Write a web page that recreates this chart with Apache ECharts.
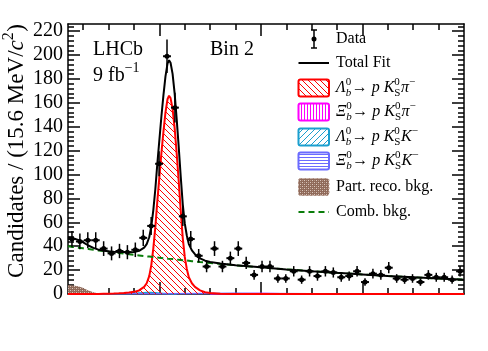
<!DOCTYPE html>
<html>
<head>
<meta charset="utf-8">
<script src="https://cdn.jsdelivr.net/npm/echarts@6/dist/echarts.min.js"></script>
<style>
  html, body { margin: 0; padding: 0; background: #fff; }
  #chart { width: 488px; height: 351px; }
</style>
</head>
<body>
<div id="chart"></div>
<script>
// binning: 50 bins of 15.6 MeV from 5420 to 6200
const binLow = 5420
const binWidth = 15.6
const counts = [46, 44, 45, 45, 38, 34, 36, 35, 37, 47,
  57, 109, 199, 156, 65, 46, 32, 23, 38, 23,
  30, 38, 26, 16, 23, 23, 13, 13, 19, 12,
  19, 15, 19, 18, 14, 15, 19, 10, 17, 16,
  22, 13, 12, 13, 10, 16, 14, 14, 12, 19]

// fit components (candidates per bin)
const fitMass = [5420, 5430, 5440, 5450, 5460, 5470, 5480, 5490, 5500, 5510, 5520, 5530, 5540, 5550, 5560, 5570,
  5575, 5580, 5584, 5588, 5592, 5596, 5600, 5604, 5608, 5612, 5616, 5619,
  5622, 5626, 5630, 5634, 5638, 5642, 5646, 5650, 5654, 5658,
  5664, 5670, 5680, 5690, 5700, 5720, 5750, 5800, 5850, 5900, 5950, 6000, 6050, 6100, 6150, 6200]
const sigFit = [0, 0, 0, 0, 0, 0.1, 0.1, 0.2, 0.3, 0.4, 0.6, 0.9, 1.3, 1.8, 3, 6,
  9, 15, 24, 38, 56, 78, 98, 118, 136, 152, 163, 166,
  164, 155, 139, 118, 95, 70, 47, 31, 21, 14,
  9, 6, 3, 1.5, 0.8, 0.3, 0.1, 0, 0, 0, 0, 0, 0, 0, 0, 0]
const combFit = [40, 39.4, 38.8, 38.2, 37.6, 37, 36.5, 35.9, 35.4, 34.8, 34.3, 33.8, 33.2, 32.7, 32.2, 31.7,
  31.5, 31.3, 31.1, 30.9, 30.7, 30.5, 30.3, 30.2, 30.0, 29.8, 29.6, 29.5,
  29.4, 29.2, 29.0, 28.8, 28.7, 28.5, 28.3, 28.1, 28.0, 27.8,
  27.5, 27.3, 26.8, 26.4, 26.0, 25.2, 24.0, 22.3, 20.6, 19.1, 17.7, 16.4, 15.1, 14.0, 12.9, 12.0]
const partRecoFit = [7.5, 7.2, 6.5, 5, 3, 1.5, 0.5, 0.1, 0]
const lbKFit = [0, 0, 0, 0, 0, 0, 0, 0.1, 0.1, 0.2, 0.3, 0.4, 0.5, 0.7, 0.9, 1.1,
  1.2, 1.2, 1.2, 1.1, 1.0, 0.9, 0.7, 0.6, 0.5, 0.4, 0.3, 0.2, 0.2, 0.1, 0.1, 0]
const xbPiMass = [5700, 5760, 5800, 5840, 5900]
const xbPiFit = [0, 0.3, 0.5, 0.3, 0]
const xbKMass = [5420, 5600, 5700, 5750, 5800, 5900, 6200]
const xbKFit = [0.2, 0.3, 0.5, 0.6, 0.5, 0.3, 0.2]

// axis ticks
const xMajor = [5600, 5800, 6000]
const xMinor = [5450, 5500, 5550, 5650, 5700, 5750, 5850, 5900, 5950, 6050, 6100, 6150]
const yMajor = [0, 20, 40, 60, 80, 100, 120, 140, 160, 180, 200, 220]
const yMinor = []
for (let t = 4; t <= 224; t += 4) {
  if (t % 20 !== 0) yMinor.push(t)
}
const xMin = 5420
const xMax = 6200
const yMax = 226

const FONT = 'Liberation Serif'

const dataPts = counts.map((n, i) => [binLow + binWidth * (i + 0.5), n, Math.sqrt(n)])
const totalFit = fitMass.map((m, i) => sigFit[i] + combFit[i] + (partRecoFit[i] || 0) + (lbKFit[i] || 0))
const pairs = (xs, ys) => ys.map((y, i) => [xs[i], y])

// hatch patterns
function hatch(color, kind, s, lw) {
  const c = document.createElement('canvas')
  c.width = s
  c.height = s
  const g = c.getContext('2d')
  g.strokeStyle = color
  g.lineWidth = lw || 1
  g.beginPath()
  if (kind === 'back') {
    g.moveTo(-1, -1); g.lineTo(s + 1, s + 1)
    g.moveTo(-1, s - 1); g.lineTo(1, s + 1)
    g.moveTo(s - 1, -1); g.lineTo(s + 1, 1)
  } else if (kind === 'fwd') {
    g.moveTo(-1, s + 1); g.lineTo(s + 1, -1)
    g.moveTo(-1, 1); g.lineTo(1, -1)
    g.moveTo(s - 1, s + 1); g.lineTo(s + 1, s - 1)
  } else if (kind === 'vert') {
    g.moveTo(s / 2, 0); g.lineTo(s / 2, s)
  } else if (kind === 'horiz') {
    g.moveTo(0, s / 2); g.lineTo(s, s / 2)
  }
  g.stroke()
  return { image: c, repeat: 'repeat' }
}
function dots(color) {
  const c = document.createElement('canvas')
  c.width = 4
  c.height = 4
  const g = c.getContext('2d')
  g.fillStyle = color
  g.fillRect(0, 0, 4, 4)
  g.fillStyle = '#d9c7bd'
  g.fillRect(0, 0, 1, 1)
  g.fillRect(2, 2, 1, 1)
  g.fillStyle = '#b59484'
  g.fillRect(2, 0, 1, 1)
  g.fillRect(0, 2, 1, 1)
  return { image: c, repeat: 'repeat' }
}

const RED = '#ff0000'
const MAG = '#ff00ff'
const CYAN = '#1b9fcf'
const BLUE = '#6b6bff'
const BROWN = '#8f6a5a'
const GREEN = '#0a7d0a'

const redPat = hatch(RED, 'back', 6, 1)
const magPat = hatch(MAG, 'vert', 3, 1)
const cyanPat = hatch(CYAN, 'fwd', 6, 1)
const bluePat = hatch(BLUE, 'horiz', 3, 1)
const brownPat = dots(BROWN)

// text layout with sub/superscripts
const mctx = document.createElement('canvas').getContext('2d')
function tw(t, size, it) {
  mctx.font = (it ? 'italic ' : '') + size + 'px "' + FONT + '"'
  return mctx.measureText(t).width
}
function txt(t, x, y, size, it) {
  return {
    type: 'text', x: x, y: y, silent: true,
    style: { text: t, fontSize: size, fontFamily: FONT, fontStyle: it ? 'italic' : 'normal', fill: '#000', textAlign: 'left', textVerticalAlign: 'middle' }
  }
}
function layout(segs, x0, yc, size) {
  const small = Math.round(size * 0.68)
  const out = []
  let x = x0
  segs.forEach(s => {
    if (s.t !== undefined) {
      out.push(txt(s.t, x, yc, size, s.it))
      x += tw(s.t, size, s.it)
    } else {
      let w = 0
      if (s.sup !== undefined) {
        out.push(txt(s.sup, x, yc - size * 0.36, small, s.supIt))
        w = Math.max(w, tw(s.sup, small, s.supIt))
      }
      if (s.sub !== undefined) {
        out.push(txt(s.sub, x, yc + size * 0.3, small, s.subIt))
        w = Math.max(w, tw(s.sub, small, s.subIt))
      }
      x += w + 0.5
    }
  })
  return { els: out, width: x - x0 }
}
function decay(mother, last) {
  return [
    { t: mother, it: true }, { sub: 'b', subIt: true, sup: '0' },
    { t: '\u2192 ' }, { t: 'p', it: true }, { t: ' ' }, { t: 'K', it: true },
    { sub: 'S', sup: '0' }, { t: last, it: true }, { sup: '\u2212' }
  ]
}

const graphics = []
// y axis title
const ytitle = layout([{ t: 'Candidates / (15.6 MeV/' }, { t: 'c', it: true }, { sup: '2' }, { t: ')' }], 0, 0, 23)
graphics.push({
  type: 'group', x: 17, y: 151, rotation: Math.PI / 2,
  children: ytitle.els.map(e => Object.assign(e, { x: e.x - ytitle.width / 2 }))
})
// labels in the plot
layout([{ t: 'LHCb' }], 93, 50, 20).els.forEach(e => graphics.push(e))
layout([{ t: '9 fb' }, { sup: '\u22121' }], 93, 76, 20).els.forEach(e => graphics.push(e))
layout([{ t: 'Bin 2' }], 210, 50, 20).els.forEach(e => graphics.push(e))

// legend
const legX = 298.5
const legW = 30.5
const legTx = 336
const rows = [39, 63, 88, 112, 137, 161, 187, 212]
graphics.push({ type: 'line', shape: { x1: 314, y1: 30, x2: 314, y2: 48 }, style: { stroke: '#000', lineWidth: 1.5 } })
graphics.push({ type: 'line', shape: { x1: 311, y1: 30, x2: 317, y2: 30 }, style: { stroke: '#000', lineWidth: 1.5 } })
graphics.push({ type: 'line', shape: { x1: 311, y1: 48, x2: 317, y2: 48 }, style: { stroke: '#000', lineWidth: 1.5 } })
graphics.push({ type: 'circle', shape: { cx: 314, cy: 39, r: 2.5 }, style: { fill: '#000' } })
graphics.push({ type: 'line', shape: { x1: legX, y1: rows[1], x2: legX + legW, y2: rows[1] }, style: { stroke: '#000', lineWidth: 2 } })
const boxes = [[rows[2], RED, redPat], [rows[3], MAG, magPat], [rows[4], CYAN, cyanPat], [rows[5], BLUE, bluePat]]
boxes.forEach(b => {
  graphics.push({ type: 'rect', shape: { x: legX, y: b[0] - 8.5, width: legW, height: 17, r: 2 }, style: { fill: b[2], stroke: b[1], lineWidth: 2 } })
})
graphics.push({ type: 'rect', shape: { x: legX, y: rows[6] - 8.5, width: legW, height: 17, r: 2 }, style: { fill: brownPat, stroke: '#b08f80', lineWidth: 1, lineDash: [2, 2] } })
graphics.push({ type: 'line', shape: { x1: legX, y1: rows[7], x2: legX + legW, y2: rows[7] }, style: { stroke: GREEN, lineWidth: 2, lineDash: [6, 4] } })
const labels = [
  [{ t: 'Data' }], [{ t: 'Total Fit' }],
  decay('\u039b', '\u03c0'), decay('\u039e', '\u03c0'), decay('\u039b', 'K'), decay('\u039e', 'K'),
  [{ t: 'Part. reco. bkg.' }], [{ t: 'Comb. bkg.' }]
]
labels.forEach((segs, i) => {
  layout(segs, legTx, rows[i], 16).els.forEach(e => graphics.push(e))
})

function xAx(position, ticks, len, showLine) {
  return {
    type: 'value', min: xMin, max: xMax, position: position,
    axisLine: { show: showLine, onZero: false, lineStyle: { color: '#000', width: 1.5 } },
    axisTick: { show: true, inside: true, length: len, customValues: ticks, lineStyle: { color: '#000', width: 1.5 } },
    axisLabel: { show: false },
    splitLine: { show: false }
  }
}
function yAx(position, ticks, len, showLine, showLabel) {
  return {
    type: 'value', min: 0, max: yMax, position: position,
    axisLine: { show: showLine, onZero: false, lineStyle: { color: '#000', width: 1.5 } },
    axisTick: { show: true, inside: true, length: len, customValues: ticks, lineStyle: { color: '#000', width: 1.5 } },
    axisLabel: { show: showLabel, customValues: ticks, margin: 5, fontFamily: FONT, fontSize: 20, color: '#000' },
    splitLine: { show: false }
  }
}

const chart = echarts.init(document.getElementById('chart'), null, { renderer: 'canvas' })
chart.setOption({
  animation: false,
  backgroundColor: '#fff',
  grid: { left: 68, right: 24, top: 24, bottom: 57 },
  xAxis: [xAx('bottom', xMajor, 12, true), xAx('bottom', xMinor, 6, false), xAx('top', xMajor, 12, true), xAx('top', xMinor, 6, false)],
  yAxis: [yAx('left', yMajor, 12, true, true), yAx('left', yMinor, 6, false, false), yAx('right', yMajor, 12, true, false), yAx('right', yMinor, 6, false, false)],
  graphic: graphics,
  series: [
    {
      name: 'Part. reco. bkg.', type: 'line', data: pairs(fitMass, partRecoFit), symbol: 'none', z: 2,
      lineStyle: { width: 0 }, areaStyle: { color: brownPat, opacity: 1 }
    },
    {
      name: 'Lb pKsK', type: 'line', data: pairs(fitMass, lbKFit), symbol: 'none', z: 3,
      lineStyle: { color: CYAN, width: 1.5 }, areaStyle: { color: cyanPat, opacity: 1 }
    },
    {
      name: 'Xb pKspi', type: 'line', data: pairs(xbPiMass, xbPiFit), symbol: 'none', z: 3,
      lineStyle: { color: MAG, width: 1.5 }, areaStyle: { color: magPat, opacity: 1 }
    },
    {
      name: 'Xb pKsK', type: 'line', data: pairs(xbKMass, xbKFit), symbol: 'none', z: 3,
      lineStyle: { color: BLUE, width: 1.5 }, areaStyle: { color: bluePat, opacity: 1 }
    },
    {
      name: 'Lb pKspi', type: 'line', data: pairs(fitMass, sigFit), symbol: 'none', z: 4,
      lineStyle: { color: RED, width: 2 }, areaStyle: { color: redPat, opacity: 1 }
    },
    {
      name: 'Comb. bkg.', type: 'line', data: pairs(fitMass, combFit), symbol: 'none', z: 5,
      lineStyle: { color: GREEN, width: 2, type: [6, 4] }
    },
    {
      name: 'Total Fit', type: 'line', data: pairs(fitMass, totalFit), symbol: 'none', z: 6,
      lineStyle: { color: '#000', width: 2 }
    },
    {
      name: 'Data', type: 'custom', z: 7, data: dataPts,
      encode: { x: 0, y: 1 },
      renderItem: function (params, api) {
        const m = api.value(0)
        const v = api.value(1)
        const e = api.value(2)
        const c = api.coord([m, v])
        const top = api.coord([m, v + e])
        const bot = api.coord([m, Math.max(v - e, 0)])
        const l = api.coord([m - binWidth / 2, v])
        const r = api.coord([m + binWidth / 2, v])
        return {
          type: 'group',
          children: [
            { type: 'line', shape: { x1: c[0], y1: top[1], x2: c[0], y2: bot[1] }, style: { stroke: '#000', lineWidth: 1.5 } },
            { type: 'line', shape: { x1: l[0], y1: c[1], x2: r[0], y2: c[1] }, style: { stroke: '#000', lineWidth: 2 } },
            { type: 'circle', shape: { cx: c[0], cy: c[1], r: 2.5 }, style: { fill: '#000' } }
          ]
        }
      }
    }
  ]
})
</script>
</body>
</html>
